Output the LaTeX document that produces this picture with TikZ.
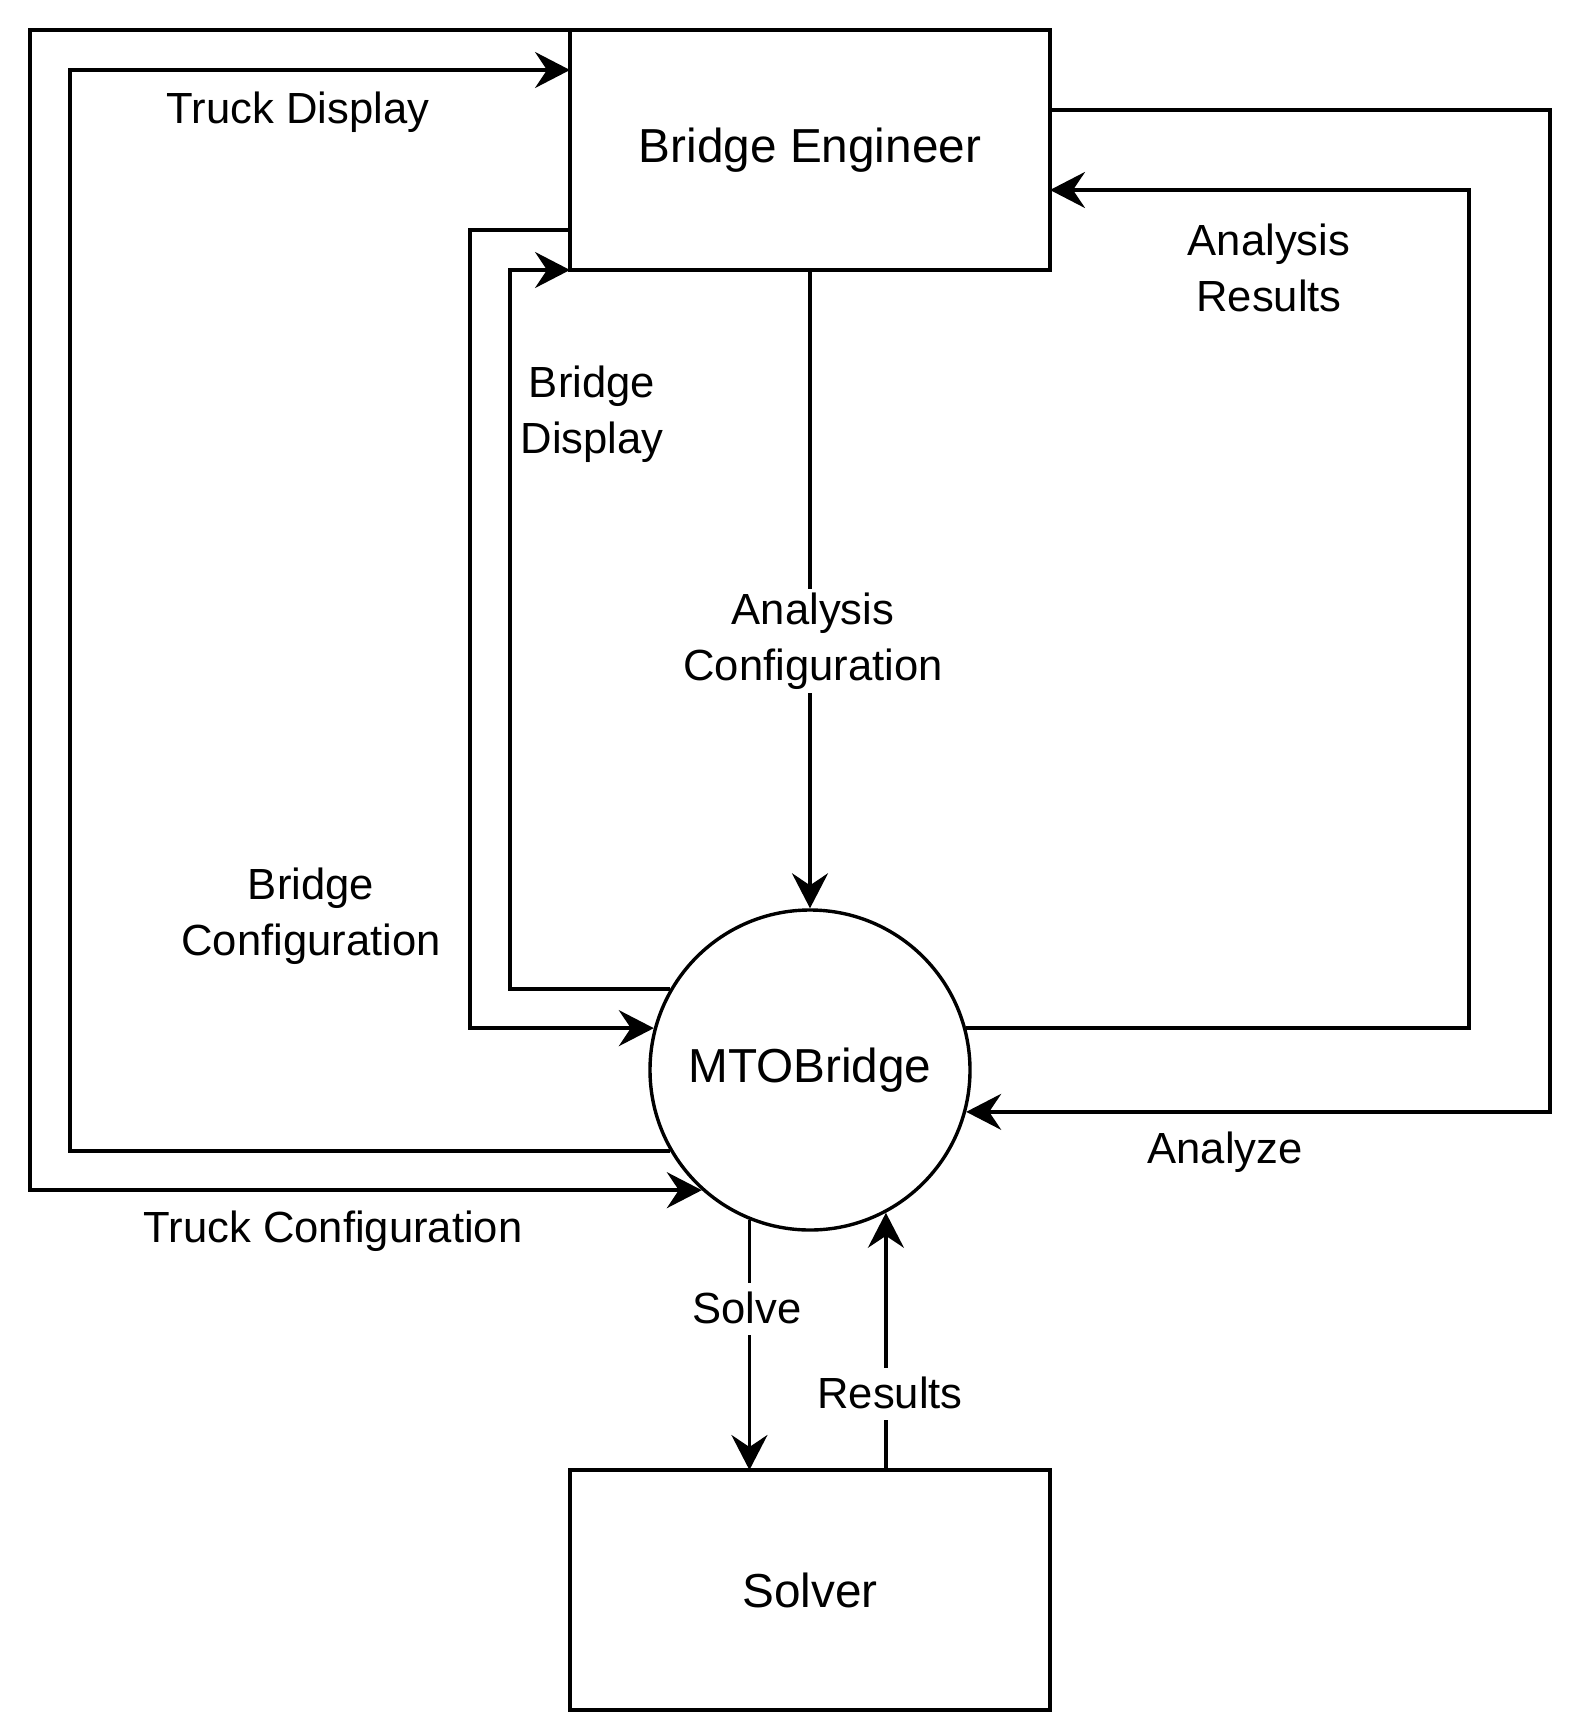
\documentclass[tikz,border=0pt]{standalone}
\usepackage{fontspec}
\setmainfont{Liberation Sans}
\usetikzlibrary{arrows.meta,calc}
\begin{document}
\begin{tikzpicture}[x=1pt,y=-1pt,
  line width=3.4pt,
  arr/.style={-{Stealth[length=35pt,width=36pt,inset=12pt]}},
  rarr/.style={{Stealth[length=35pt,width=36pt,inset=12pt]}-},
  box/.style={draw, rectangle, minimum width=480pt, minimum height=240pt, inner sep=0pt, outer sep=0pt, font=\fontsize{47.7}{57}\selectfont},
  proc/.style={draw, circle, minimum size=320pt, inner sep=0pt, font=\fontsize{47.7}{57}\selectfont},
  lbl/.style={font=\fontsize{43.6}{55.5}\selectfont, align=center, inner sep=0pt, anchor=base},
  gap/.style={fill=white, inner xsep=4pt, inner ysep=0pt, text height=40pt, text depth=12pt}
]
\useasboundingbox (0,0) rectangle (1584,1712);
\fill[white] (0,0) rectangle (1584,1712);

\node[box] (be) at (810,150) {Bridge Engineer};
\node[proc] (mto) at (810,1070) {MTOBridge};
\node[box] (solver) at (810,1590) {Solver};

% Truck Display
\draw[arr] (mto.210) -| (70,70) -- ($(be.north west)+(0,40)$);
% Truck Configuration
\draw[rarr] (mto.228) -| (30,30) -- (be.north west);
% Bridge Configuration
\draw[rarr] (mto.165) -| (470,230) -- ($(be.north west)+(0,200)$);
% Bridge Display
\draw[arr] (mto.150) -| (510,270) -- (be.south west);
% Analysis Results
\draw[arr] (mto.15) -| (1469,190) -- ($(be.north east)+(0,160)$);
% Analyze
\draw[rarr] (mto.345) -| (1550,110) -- ($(be.north east)+(0,80)$);
% Analysis Configuration
\draw[arr] (be.south) -- (mto.north);
% Solve
\draw[arr] (mto.248) -- (mto.248 |- solver.north);
% Results
\draw[rarr] (mto.298) -- (mto.298 |- solver.north);

\node[lbl] (lTD) at (298,124) {Truck Display};
\node[lbl] (lTC) at (333,1242) {Truck Configuration};
\node[lbl] (lBC) at (311,955) {Bridge\\Configuration};
\node[lbl] (lBD) at (592,453) {Bridge\\Display};
\node[lbl, fill=white, inner xsep=4pt, inner ysep=4pt] (lAC) at (813,680) {Analysis\\Configuration};
\node[lbl] (lAR) at (1269,311) {Analysis\\Results};
\node[lbl] (lAZ) at (1225,1163) {Analyze};
\node[lbl,gap] (lS) at (747,1323) {Solve};
\node[lbl,gap] (lR) at (890,1408) {Results};
\end{tikzpicture}
\end{document}
